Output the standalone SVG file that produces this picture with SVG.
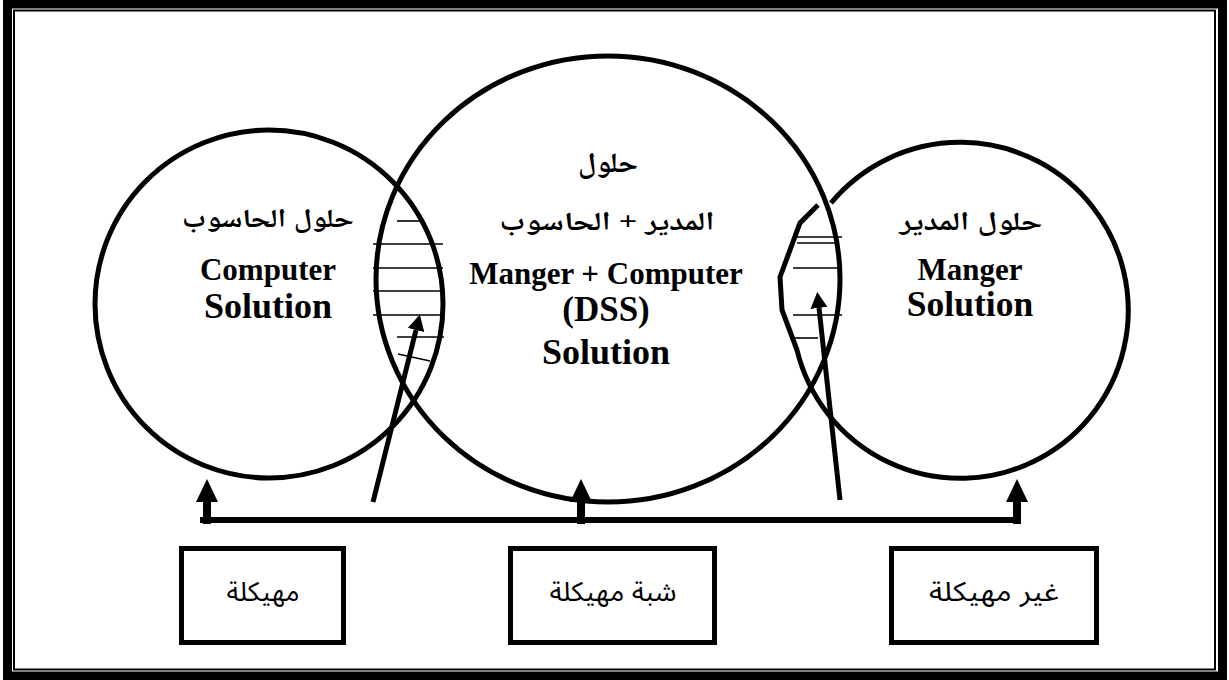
<svg xmlns="http://www.w3.org/2000/svg" width="1229" height="680" viewBox="0 0 1229 680">
<style>
.ln{fill:none;stroke:#000;stroke-width:5}
.hatch{stroke:#000;stroke-width:1.6}
.box{fill:#fff;stroke:#000;stroke-width:5}
.lat{font-family:"Liberation Serif","Times New Roman",serif;font-weight:bold;fill:#000;text-anchor:middle}
.ar{font-family:"Liberation Serif","Noto Naskh Arabic","Noto Sans Arabic","DejaVu Sans",serif;font-weight:bold;fill:#000;text-anchor:middle}
.arb{font-family:"Liberation Sans","Noto Sans Arabic","DejaVu Sans",sans-serif;font-weight:normal;fill:#000;text-anchor:middle;font-size:27px}
</style>
<defs>
<marker id="headBig" markerUnits="userSpaceOnUse" markerWidth="24" markerHeight="24" refX="0" refY="11" orient="auto">
<path d="M0,0 L23,11 L0,22 Z" fill="#000"/>
</marker>
<marker id="headSmall" markerUnits="userSpaceOnUse" markerWidth="18" markerHeight="18" refX="0" refY="8.5" orient="auto">
<path d="M0,0 L16,8.5 L0,17 Z" fill="#000"/>
</marker>
</defs>
<rect width="1229" height="680" fill="#fff"/>
<g id="frame">
<rect x="7.5" y="4" width="1215" height="672" fill="none" stroke="#000" stroke-width="9"/>
<rect x="14" y="10.5" width="1201" height="659" fill="none" stroke="#000" stroke-width="2"/>
</g>
<g id="hatching">
<line class="hatch" x1="397" y1="221" x2="420" y2="221"/>
<line class="hatch" x1="373" y1="244" x2="443" y2="244"/>
<line class="hatch" x1="373" y1="268" x2="443" y2="268"/>
<line class="hatch" x1="373" y1="291" x2="442" y2="291"/>
<line class="hatch" x1="373" y1="315" x2="442" y2="315"/>
<line class="hatch" x1="397" y1="337" x2="444" y2="337"/>
<line class="hatch" x1="398" y1="354" x2="430" y2="361"/>
<line class="hatch" x1="797" y1="237" x2="842" y2="237"/>
<line class="hatch" x1="797" y1="243" x2="837" y2="243"/>
<line class="hatch" x1="793" y1="268" x2="838" y2="268"/>
<line class="hatch" x1="793" y1="315" x2="842" y2="315"/>
<line class="hatch" x1="793" y1="338" x2="818" y2="338"/>
</g>
<g id="computer-solution">
<circle class="ln" cx="269" cy="304" r="174"/>
<text class="ar" x="268" y="227" font-size="26" textLength="172" lengthAdjust="spacingAndGlyphs">حلول الحاسوب</text>
<text class="lat" x="268" y="280" font-size="31">Computer</text>
<text class="lat" x="268" y="318" font-size="36">Solution</text>
</g>
<g id="dss-solution">
<ellipse class="ln" cx="608" cy="279" rx="232" ry="223"/>
<text class="ar" x="608" y="172" font-size="28" textLength="60" lengthAdjust="spacingAndGlyphs">حلول</text>
<text class="ar" x="607" y="230" font-size="26" textLength="215" lengthAdjust="spacingAndGlyphs">المدير + الحاسوب</text>
<text class="lat" x="606" y="284" font-size="31">Manger + Computer</text>
<text class="lat" x="606" y="321" font-size="35">(DSS)</text>
<text class="lat" x="606" y="364" font-size="36">Solution</text>
</g>
<g id="manager-solution">
<path class="ln" d="M831,203 A168,168 0 1 1 797,350 L782,310 L780,277 L800,223 L818,205"/>
<text class="ar" x="971" y="230" font-size="26" textLength="143" lengthAdjust="spacingAndGlyphs">حلول المدير</text>
<text class="lat" x="970" y="280" font-size="31">Manger</text>
<text class="lat" x="970" y="316" font-size="35.5">Solution</text>
</g>
<g id="connectors">
<line x1="200" y1="520" x2="1021" y2="520" stroke="#000" stroke-width="6"/>
<line x1="207" y1="524" x2="207" y2="502" stroke="#000" stroke-width="8" marker-end="url(#headBig)"/>
<line x1="581" y1="524" x2="581" y2="502" stroke="#000" stroke-width="8" marker-end="url(#headBig)"/>
<line x1="1017" y1="524" x2="1017" y2="502" stroke="#000" stroke-width="8" marker-end="url(#headBig)"/>
<line x1="373" y1="502" x2="416" y2="330" stroke="#000" stroke-width="5" marker-end="url(#headSmall)"/>
<line x1="840" y1="500" x2="819" y2="308" stroke="#000" stroke-width="5" marker-end="url(#headSmall)"/>
</g>
<g id="structured">
<rect class="box" x="181.5" y="548.5" width="162" height="94"/>
<text class="arb" x="263" y="601" textLength="73" lengthAdjust="spacingAndGlyphs">مهيكلة</text>
</g>
<g id="semi-structured">
<rect class="box" x="510.5" y="548.5" width="204" height="94"/>
<text class="arb" x="613" y="601" textLength="127" lengthAdjust="spacingAndGlyphs">شبة مهيكلة</text>
</g>
<g id="unstructured">
<rect class="box" x="891.5" y="548.5" width="205" height="94"/>
<text class="arb" x="994" y="601" textLength="130" lengthAdjust="spacingAndGlyphs">غير مهيكلة</text>
</g>
</svg>
